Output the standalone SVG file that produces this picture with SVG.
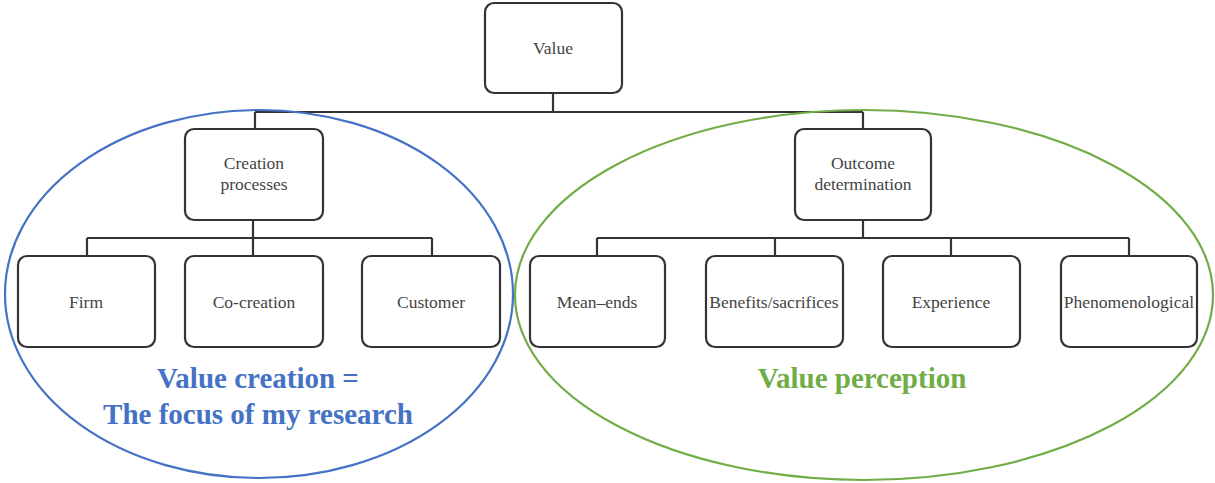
<svg xmlns="http://www.w3.org/2000/svg" width="1215" height="483" viewBox="0 0 1215 483">
<style>
.box{fill:#fff;stroke:#333;stroke-width:2.2}
.lbl{font-family:"Liberation Serif","Times New Roman",serif;font-size:17.5px;fill:#444;text-anchor:middle}
.con{fill:none;stroke:#333;stroke-width:2.2}
.big{font-family:"Liberation Serif","Times New Roman",serif;font-size:29px;font-weight:bold;text-anchor:middle}
</style>
<rect width="1215" height="483" fill="#fff"/>
<g id="connectors">
<path class="con" d="M553,93 V112 M255,112 H863 M255,112 V129 M863,112 V129"/>
<path class="con" d="M253,220 V256 M87,238 H432 M87,238 V256 M432,238 V256"/>
<path class="con" d="M863,220 V238 M597,238 H1129 M597,238 V256 M775,238 V256 M951,238 V256 M1129,238 V256"/>
</g>
<g id="value"><rect class="box" x="485" y="3" width="137" height="90" rx="9"/><text class="lbl" x="553" y="54">Value</text></g>
<g id="creation-processes"><rect class="box" x="185" y="129" width="138" height="91" rx="9"/><text class="lbl" x="254" y="169">Creation</text><text class="lbl" x="254" y="190">processes</text></g>
<g id="outcome-determination"><rect class="box" x="795" y="129" width="136" height="91" rx="9"/><text class="lbl" x="863" y="169">Outcome</text><text class="lbl" x="863" y="190">determination</text></g>
<g id="firm"><rect class="box" x="18" y="256" width="137" height="91" rx="9"/><text class="lbl" x="86" y="308">Firm</text></g>
<g id="co-creation"><rect class="box" x="185" y="256" width="138" height="91" rx="9"/><text class="lbl" x="254" y="308">Co-creation</text></g>
<g id="customer"><rect class="box" x="362" y="256" width="138" height="91" rx="9"/><text class="lbl" x="431" y="308">Customer</text></g>
<g id="mean-ends"><rect class="box" x="530" y="256" width="135" height="91" rx="9"/><text class="lbl" x="597" y="308">Mean–ends</text></g>
<g id="benefits"><rect class="box" x="706" y="256" width="137" height="91" rx="9"/><text class="lbl" x="774" y="308">Benefits/sacrifices</text></g>
<g id="experience"><rect class="box" x="883" y="256" width="137" height="91" rx="9"/><text class="lbl" x="951" y="308">Experience</text></g>
<g id="phenomenological"><rect class="box" x="1061" y="256" width="136" height="91" rx="9"/><text class="lbl" x="1129" y="308">Phenomenological</text></g>
<g id="value-creation-region">
<ellipse cx="259" cy="294" rx="254" ry="184" fill="none" stroke="#4472C4" stroke-width="2.2"/>
<text class="big" x="258" y="388" fill="#4472C4">Value creation =</text>
<text class="big" x="258" y="424" fill="#4472C4">The focus of my research</text>
</g>
<g id="value-perception-region">
<ellipse cx="864" cy="295" rx="349" ry="185" fill="none" stroke="#70AD47" stroke-width="2.2"/>
<text class="big" x="862" y="388" fill="#70AD47">Value perception</text>
</g>
</svg>
